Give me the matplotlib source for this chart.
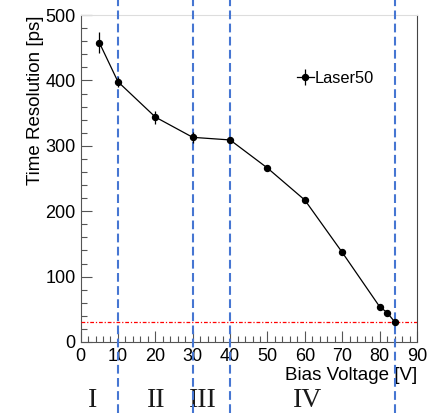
import matplotlib
matplotlib.use('Agg')
import matplotlib.pyplot as plt
import matplotlib.transforms as mtransforms
from matplotlib.ticker import MultipleLocator
import numpy as np

plt.rcParams['font.family'] = ['Liberation Sans', 'DejaVu Sans']

# measured points
voltage = [5, 10, 20, 30, 40, 50, 60, 70, 80, 82, 84]
resolution = [458, 398, 344, 313, 309, 266, 217, 137, 54, 45, 31]
res_err = [16, 8, 10, 8, 5, 4, 4, 4, 3, 3, 3]

region_bounds = [10, 30, 40, 84]
region_labels = ['I', 'II', 'III', 'IV']
region_pos = [3.3, 20.2, 32.7, 60.8]
target = 30

fig = plt.figure(figsize=(4.31, 4.13), dpi=100)
ax = fig.add_axes([0.187, 0.172, 0.7805, 0.7915])

ax.errorbar(voltage, resolution, yerr=res_err, fmt='-o', color='black',
            ms=4.3, lw=0.9, elinewidth=0.9, capsize=0, label='Laser50', zorder=5)

ax.axhline(target, color='red', lw=0.9, ls=(0, (3, 1.5, 1, 1.5)), zorder=3)

# region boundaries, spanning whole figure height
trans = mtransforms.blended_transform_factory(ax.transData, fig.transFigure)
for xb in region_bounds:
    ax.plot([xb, xb], [0, 1], transform=trans, color='#4676d2', lw=1.5,
            ls=(0, (4.2, 2.1)), clip_on=False, zorder=4)
for xl, lab in zip(region_pos, region_labels):
    ax.text(xl, 0.03, lab, transform=trans, ha='center', va='center',
            family='Liberation Serif', fontsize=20, color='#1a1a1a')

ax.set_xlim(0, 90)
ax.set_ylim(0, 500)
ax.xaxis.set_major_locator(MultipleLocator(10))
ax.xaxis.set_minor_locator(MultipleLocator(2))
ax.yaxis.set_major_locator(MultipleLocator(100))
ax.yaxis.set_minor_locator(MultipleLocator(20))
ax.tick_params(which='both', direction='in', labelsize=13, color='#555555')
ax.tick_params(which='major', length=8, width=0.8)
ax.tick_params(which='minor', length=4, width=0.8)
ax.tick_params(axis='x', pad=4)

for s in ['left', 'bottom']:
    ax.spines[s].set_color('#555555')
ax.spines['right'].set_color('#444444')
ax.spines['top'].set_color('#dddddd')

ax.set_ylabel('Time Resolution [ps]', fontsize=13.5, loc='top', labelpad=1)
ax.set_xlabel('Bias Voltage [V]', fontsize=13.5, loc='right', labelpad=2)

ax.legend(loc='upper left', bbox_to_anchor=(0.6, 0.875), frameon=False,
          fontsize=11.8, handlelength=1.0, handletextpad=0.05)

fig.savefig('out.png', dpi=100)
